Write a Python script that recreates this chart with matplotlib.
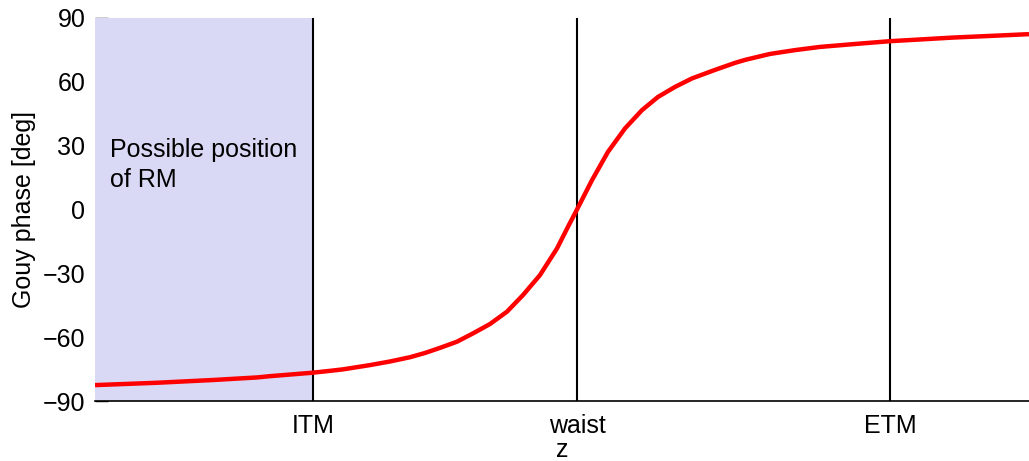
import matplotlib.pyplot as plt

plt.rcParams['font.family'] = ['Liberation Sans', 'DejaVu Sans']

# position along the beam axis, waist at z = 0 (arbitrary units)
z = [-48.2, -42.0, -36.4, -32.0, -30.7, -26.5, -24.7, -23.4, -20.7, -18.7, -16.7,
     -15.2, -13.7, -12.0, -10.4, -8.7, -7.0, -5.4, -3.7, -2.0, -0.9, 0.0, 1.5, 3.1,
     4.8, 6.5, 8.1, 9.8, 11.5, 13.8, 15.8, 16.8, 19.3, 21.8, 24.3, 27.6, 31.3,
     34.3, 37.6, 41.0, 45.2]
# Gouy phase in degrees
gouy = [-82.5, -81.4, -80.1, -78.9, -78.3, -76.7, -75.8, -75.1, -73.1, -71.4, -69.4,
        -67.4, -65.0, -62.1, -58.2, -53.8, -48.0, -40.2, -30.8, -18.3, -8.1, 0.0, 13.8, 27.1,
        38.1, 46.7, 52.9, 57.6, 61.6, 65.6, 68.9, 70.3, 73.1, 74.9, 76.4, 77.7, 79.1,
        79.9, 80.8, 81.5, 82.4]

mirror_names = ['ITM', 'waist', 'ETM']
mirror_pos = [-26.4, 0.0, 31.3]
z_range = [-48.2, 45.2]

fs = 18

fig = plt.figure(figsize=(10.29, 4.61), dpi=100)
ax = fig.add_axes([0.0923, 0.130, 0.9077, 0.831])
ax.set_axisbelow(True)

# region where the RM could sit (in front of the ITM)
ax.axvspan(z_range[0], mirror_pos[0], color='#d9d9f5', lw=0, zorder=1)
ax.text(z_range[0] + 1.5, 21, 'Possible position\nof RM', fontsize=fs,
        va='center', ha='left', linespacing=1.35, zorder=4)

for p in mirror_pos:
    ax.axvline(p, color='black', lw=1.5, zorder=2)

ax.plot(z, gouy, color='red', lw=3.2, zorder=3, solid_capstyle='butt',
        solid_joinstyle='round')

ax.set_xlim(*z_range)
ax.set_ylim(-90, 90)
ax.set_yticks(range(-90, 91, 30))
ax.set_xticks(mirror_pos)
ax.set_xticklabels(mirror_names)
ax.tick_params(axis='x', labelsize=fs, direction='in', length=0, pad=9)
ax.tick_params(axis='y', labelsize=fs, direction='in', length=9, width=1, pad=7)

ax.set_ylabel('Gouy phase [deg]', fontsize=fs, labelpad=5)
ax.set_xlabel('z', fontsize=fs, labelpad=0)

for s in ['top', 'right', 'left']:
    ax.spines[s].set_visible(False)
ax.spines['bottom'].set_linewidth(1.2)

fig.savefig('out.png', dpi=100)
